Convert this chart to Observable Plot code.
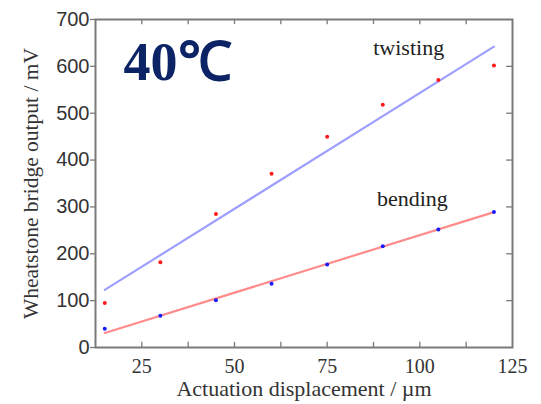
<!DOCTYPE html>
<html>
<head>
<meta charset="utf-8">
<script src="https://cdn.jsdelivr.net/npm/d3@7"></script>
<script src="https://cdn.jsdelivr.net/npm/@observablehq/plot@0.6"></script>
<style>
  html, body { margin: 0; padding: 0; background: #fff; }
  #chart { position: relative; width: 541px; height: 404px; }
</style>
</head>
<body>
<div id="chart"></div>
<script>
// Data
const displacement = [15, 30, 45, 60, 75, 90, 105, 120];
const twisting = [95, 182, 285, 371, 450, 518, 571, 602];
const bending = [40, 68, 101, 136, 177, 216, 252, 289];
// Fitted lines (endpoints)
const fitX = [15, 120];
const twistingFit = [123, 642];
const bendingFit = [31, 289];
const xTickLabels = [25, 50, 75, 100, 125];
const xMinorTicks = [25, 37.5, 50, 62.5, 75, 87.5, 100, 112.5];
const yTicks = [0, 100, 200, 300, 400, 500, 600, 700];
const seriesLabels = ["twisting", "bending"];
const labelX = [97, 98];
const labelY = [640, 318];
const xTitle = "Actuation displacement / µm";
const yTitle = "Wheatstone bridge output / mV";
const panelTitle = "40℃";

const twistPts = displacement.map((x, i) => ({x, y: twisting[i]}));
const bendPts = displacement.map((x, i) => ({x, y: bending[i]}));
const twistLine = fitX.map((x, i) => ({x, y: twistingFit[i]}));
const bendLine = fitX.map((x, i) => ({x, y: bendingFit[i]}));
const labels = seriesLabels.map((text, i) => ({text, x: labelX[i], y: labelY[i]}));

const serif = "'Liberation Serif', 'Times New Roman', serif";
const sans = "'Liberation Sans', Arial, sans-serif";
const axisGray = "#7a7a7a";
const textGray = "#333";

const plot = Plot.plot({
  width: 541,
  height: 404,
  marginLeft: 95,
  marginRight: 29,
  marginTop: 19,
  marginBottom: 57,
  style: {background: "#fff", overflow: "visible"},
  x: {domain: [12.5, 125], axis: null},
  y: {domain: [0, 700]},
  marks: [
    // inward ticks bottom and top
    Plot.ruleX(xMinorTicks, {x: d => d, y1: 0, y2: 11, stroke: axisGray, strokeWidth: 1.3}),
    Plot.ruleX(xMinorTicks, {x: d => d, y1: 689, y2: 700, stroke: axisGray, strokeWidth: 1.3}),
    // right inward ticks
    Plot.ruleY(yTicks.slice(1, -1), {y: d => d, x1: 123.4, x2: 125, stroke: axisGray, strokeWidth: 1.3}),
    // left axis ticks (outward)
    Plot.axisY(yTicks, {tickSize: 5, tickFormat: () => "", stroke: axisGray, strokeWidth: 1.3, label: null}),
    // tick labels
    Plot.text(yTicks, {y: d => d, text: d => String(d), frameAnchor: "left", dx: -6,
      textAnchor: "end", lineAnchor: "middle", fontSize: 20, fontFamily: sans, fill: textGray}),
    Plot.text(xTickLabels, {x: d => d, text: d => String(d), frameAnchor: "bottom", dy: 19,
      textAnchor: "middle", lineAnchor: "middle", fontSize: 20, fontFamily: serif, fill: textGray}),
    // axis titles
    Plot.text([yTitle], {text: d => d, frameAnchor: "left", dx: -64, rotate: -90,
      textAnchor: "middle", lineAnchor: "middle", fontSize: 21.5, fontFamily: serif, fill: textGray}),
    Plot.text([xTitle], {text: d => d, frameAnchor: "bottom", dy: 41,
      textAnchor: "middle", lineAnchor: "middle", fontSize: 22, fontFamily: serif, fill: textGray}),
    Plot.frame({stroke: axisGray, strokeWidth: 2}),
    Plot.line(twistLine, {x: "x", y: "y", stroke: "#9f9fff", strokeWidth: 2.2}),
    Plot.line(bendLine, {x: "x", y: "y", stroke: "#ff8c8c", strokeWidth: 2.2}),
    Plot.dot(twistPts, {x: "x", y: "y", r: 2, fill: "#ff1a1a", stroke: "none"}),
    Plot.dot(bendPts, {x: "x", y: "y", r: 2, fill: "#1a1aff", stroke: "none"}),
    Plot.text(labels, {x: "x", y: "y", text: "text", fontSize: 22, fontFamily: serif, fill: "#222"}),
    Plot.text([panelTitle], {frameAnchor: "top-left", dx: 28, dy: 22, text: d => d, fontSize: 54,
      fontWeight: "bold", fontFamily: serif, fill: "#0c2366", textAnchor: "start", lineAnchor: "top"})
  ]
});
document.getElementById("chart").appendChild(plot);
</script>
</body>
</html>
